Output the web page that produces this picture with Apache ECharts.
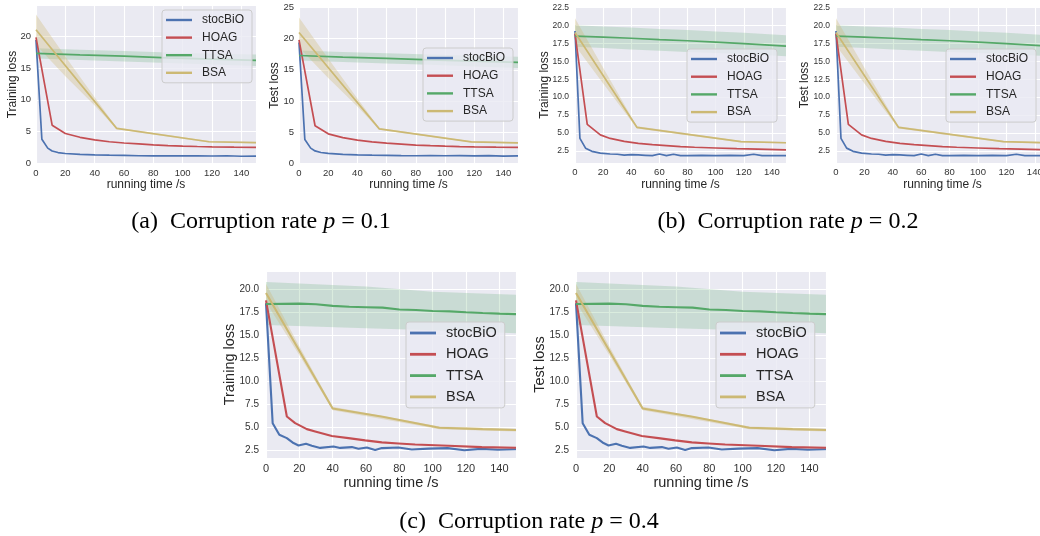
<!DOCTYPE html>
<html>
<head>
<meta charset="utf-8">
<script src="https://cdn.jsdelivr.net/npm/echarts@6/dist/echarts.min.js"></script>
<style>
  html, body { margin: 0; padding: 0; background: #fff; }
  #chart { width: 1040px; height: 536px; }
</style>
</head>
<body>
<div id="chart"></div>
<script>
const methods = ['stocBiO', 'HOAG', 'TTSA', 'BSA'];
const colors = ['#4C72B0', '#C44E52', '#55A868', '#CCB974'];
const bandColors = ['rgba(85,168,104,0.22)', 'rgba(204,185,116,0.32)'];

// ---- p = 0.1 (train / test look the same) ----
const stocT1 = [0, 4, 8, 11, 15, 20, 30, 40, 50, 60, 70, 80, 90, 100, 110, 120, 130, 140, 150];
const stocY1 = [19.4, 3.8, 2.4, 1.95, 1.7, 1.55, 1.4, 1.32, 1.28, 1.25, 1.2, 1.18, 1.2, 1.18, 1.2, 1.16, 1.2, 1.12, 1.15];
const hoagT1 = [0, 11, 20, 30, 40, 50, 60, 70, 80, 90, 100, 110, 120, 135, 150];
const hoagY1 = [19.8, 6.0, 4.7, 4.1, 3.7, 3.4, 3.2, 3.05, 2.9, 2.8, 2.72, 2.65, 2.6, 2.55, 2.52];
const ttsaT1 = [0, 30, 60, 90, 120, 150];
const ttsaY1 = [17.3, 17.05, 16.85, 16.6, 16.4, 16.2];
const ttsaLo1 = [16.5, 16.25, 16.0, 15.8, 15.55, 15.3];
const ttsaHi1 = [18.1, 17.85, 17.65, 17.45, 17.25, 17.1];
const bsaT1 = [0, 55, 118, 150];
const bsaY1 = [21.0, 5.5, 3.4, 3.25];
const bsaBandT1 = [0, 20, 40, 55, 118, 150];
const bsaLo1 = [18.6, 13.7, 9.1, 5.35, 3.3, 3.15];
const bsaHi1 = [23.4, 16.8, 10.4, 5.65, 3.5, 3.35];

// ---- p = 0.2 ----
const stocT2 = [0, 3.5, 7.5, 12, 18, 25, 30, 35, 40, 45, 50, 55, 60, 65, 70, 75, 80, 90, 100, 110, 120, 127, 133, 140, 150];
const stocY2 = [19.2, 4.25, 2.9, 2.45, 2.2, 2.08, 2.05, 1.92, 2.0, 1.95, 1.9, 1.85, 2.08, 1.85, 2.05, 1.85, 1.85, 1.9, 1.85, 1.9, 1.85, 2.05, 1.85, 1.85, 1.85];
const hoagT2 = [0, 8.7, 18, 25, 35, 45, 55, 65, 75, 85, 100, 115, 130, 150];
const hoagY2 = [18.8, 6.2, 4.75, 4.25, 3.85, 3.55, 3.38, 3.25, 3.12, 3.02, 2.92, 2.82, 2.75, 2.65];
const ttsaT2 = [0, 20, 40, 60, 80, 100, 120, 150];
const ttsaY2 = [18.5, 18.35, 18.2, 18.0, 17.85, 17.65, 17.45, 17.1];
const ttsaLo2 = [17.0, 16.85, 16.65, 16.45, 16.3, 16.15, 16.0, 15.7];
const ttsaHi2 = [20.0, 19.85, 19.7, 19.5, 19.35, 19.15, 18.95, 18.6];
const bsaT2 = [0, 44, 118, 150];
const bsaY2 = [19.0, 5.8, 3.8, 3.65];
const bsaBandT2 = [0, 20, 44, 118, 150];
const bsaLo2 = [17.2, 11.9, 5.65, 3.7, 3.55];
const bsaHi2 = [21.0, 14.1, 5.95, 3.9, 3.75];

// ---- p = 0.4 ----
const stocT4 = [0, 4, 8, 12.5, 16.5, 19.5, 24, 27.5, 32.5, 40.5, 44.5, 51.5, 55.5, 60.5, 65.5, 69.5, 79.5, 87.5, 97.5, 109, 119, 129, 139, 150];
const stocY4 = [18.5, 5.4, 4.13, 3.77, 3.23, 2.97, 3.15, 2.94, 2.7, 2.86, 2.7, 2.79, 2.6, 2.75, 2.48, 2.68, 2.75, 2.52, 2.62, 2.68, 2.45, 2.6, 2.5, 2.55];
const hoagT4 = [0, 12.5, 17.5, 24.5, 29.5, 39.5, 49.5, 59.5, 69.5, 79.5, 89.5, 109.5, 129.5, 150];
const hoagY4 = [18.8, 6.13, 5.4, 4.75, 4.5, 4.0, 3.77, 3.52, 3.3, 3.19, 3.08, 2.94, 2.79, 2.72];
const ttsaT4 = [0, 20, 30, 40, 50, 60, 70, 80, 90, 100, 110, 120, 130, 140, 150];
const ttsaY4 = [18.4, 18.44, 18.37, 18.2, 18.1, 18.05, 18.0, 17.8, 17.75, 17.64, 17.6, 17.5, 17.42, 17.35, 17.3];
const ttsaBandT4 = [0, 60, 100, 150];
const ttsaLo4 = [16.1, 15.75, 15.55, 15.2];
const ttsaHi4 = [20.8, 20.3, 19.75, 19.4];
const bsaT4 = [0, 40, 70, 104, 130, 150];
const bsaY4 = [19.6, 7.0, 6.1, 4.9, 4.75, 4.65];
const bsaBandT4 = [0, 20, 40, 104, 150];
const bsaLo4 = [18.6, 12.8, 6.8, 4.75, 4.5];
const bsaHi4 = [20.6, 13.8, 7.2, 5.05, 4.8];

const captions = ['(a)  Corruption rate {i|p} = 0.1', '(b)  Corruption rate {i|p} = 0.2', '(c)  Corruption rate {i|p} = 0.4'];

const runs = {
  p1: { lines: [[stocT1, stocY1], [hoagT1, hoagY1], [ttsaT1, ttsaY1], [bsaT1, bsaY1]],
        bands: [[ttsaT1, ttsaLo1, ttsaHi1], [bsaBandT1, bsaLo1, bsaHi1]] },
  p2: { lines: [[stocT2, stocY2], [hoagT2, hoagY2], [ttsaT2, ttsaY2], [bsaT2, bsaY2]],
        bands: [[ttsaT2, ttsaLo2, ttsaHi2], [bsaBandT2, bsaLo2, bsaHi2]] },
  p4: { lines: [[stocT4, stocY4], [hoagT4, hoagY4], [ttsaT4, ttsaY4], [bsaT4, bsaY4]],
        bands: [[ttsaBandT4, ttsaLo4, ttsaHi4], [bsaBandT4, bsaLo4, bsaHi4]] }
};

const SANS = '"Liberation Sans", Arial, sans-serif';
const SERIF = '"Liberation Serif", "Times New Roman", serif';
const small = { tick: 9.5, name: 12, legend: 12, lh: 14, lw: 1.7, xm: 4 };
const big = { tick: 11, name: 14.5, legend: 14.5, lh: 16, lw: 2.1, xm: 5 };

const panels = [
  { run: 'p1', rect: [36, 5, 220, 159], y: [-0.1, 24.9, 5], yName: 'Training loss', gap: 17, xGap: 15, ym: 5, yt: 9.5, lg: [162, 10, 3.6], s: small },
  { run: 'p1', rect: [299, 7, 219, 157], y: [-0.15, 25.1, 5], yName: 'Test loss', gap: 18, xGap: 15, ym: 5, yt: 9.5, lg: [423, 48, 3.7], s: small },
  { run: 'p2', rect: [575, 7, 211, 156], y: [0.83, 22.55, 2.5], yName: 'Training loss', gap: 24, xGap: 16, ym: 6, yt: 8.5, lg: [687, 49, 3.7], s: small },
  { run: 'p2', rect: [836, 7, 213, 156], y: [0.83, 22.55, 2.5], yName: 'Test loss', gap: 25, xGap: 16, ym: 6, yt: 8.5, lg: [946, 49, 3.7], s: small },
  { run: 'p4', rect: [266, 271, 250, 187], y: [1.6, 22.0, 2.5], yName: 'Training loss', gap: 29, xGap: 17, ym: 7, yt: 10, lg: [406, 322, 5.3], s: big },
  { run: 'p4', rect: [576, 271, 250, 187], y: [1.6, 22.0, 2.5], yName: 'Test loss', gap: 29, xGap: 17, ym: 7, yt: 10, lg: [716, 322, 5.3], s: big }
];

function bandSeries(gi, band, color) {
  const [t, lo, hi] = band;
  return {
    type: 'custom', name: 'band', xAxisIndex: gi, yAxisIndex: gi, clip: true, silent: true, z: 2,
    data: t.map((v, i) => [v, lo[i], hi[i]]),
    encode: { x: 0, y: [1, 2] },
    renderItem(params, api) {
      if (params.dataIndexInside !== 0) return null;
      const n = params.dataInsideLength;
      const bot = [], top = [];
      for (let j = 0; j < n; j++) {
        const x = api.value(0, j);
        bot.push(api.coord([x, api.value(1, j)]));
        top.push(api.coord([x, api.value(2, j)]));
      }
      return { type: 'polygon', shape: { points: bot.concat(top.reverse()) }, style: { fill: color } };
    }
  };
}

const grid = [], xAxis = [], yAxis = [], series = [], legend = [];
panels.forEach((p, gi) => {
  const s = p.s;
  grid.push({ left: p.rect[0], top: p.rect[1], width: p.rect[2], height: p.rect[3], show: true,
              backgroundColor: '#EAEAF2', borderWidth: 0, outerBoundsMode: 'none' });
  xAxis.push({
    type: 'value', gridIndex: gi, min: 0, max: 150, interval: 20,
    axisLine: { show: false }, axisTick: { show: false },
    splitLine: { lineStyle: { color: '#ffffff', width: 1.1 } },
    axisLabel: { showMaxLabel: false, fontSize: s.tick, color: '#333', fontFamily: SANS, margin: s.xm },
    name: 'running time /s', nameLocation: 'middle', nameGap: p.xGap, nameMoveOverlap: false,
    nameTextStyle: { fontSize: s.name, color: '#262626', fontFamily: SANS }
  });
  yAxis.push({
    type: 'value', gridIndex: gi, min: p.y[0], max: p.y[1], minInterval: p.y[2], maxInterval: p.y[2], splitNumber: 5,
    axisLine: { show: false }, axisTick: { show: false },
    splitLine: { lineStyle: { color: '#ffffff', width: 1.1 } },
    axisLabel: { showMinLabel: false, showMaxLabel: false, fontSize: p.yt, color: '#333', fontFamily: SANS, margin: p.ym,
                 formatter: v => p.y[2] < 5 ? v.toFixed(1) : String(v) },
    name: p.yName, nameLocation: 'middle', nameGap: p.gap, nameMoveOverlap: false,
    nameTextStyle: { fontSize: s.name, color: '#262626', fontFamily: SANS }
  });
  const run = runs[p.run];
  run.lines.forEach((ln, k) => {
    if (k === 2) series.push(bandSeries(gi, run.bands[0], bandColors[0]));
    if (k === 3) series.push(bandSeries(gi, run.bands[1], bandColors[1]));
    series.push({
      type: 'line', name: methods[k], xAxisIndex: gi, yAxisIndex: gi, z: 3,
      data: ln[0].map((t, i) => [t, ln[1][i]]),
      symbol: 'none', color: colors[k], lineStyle: { width: s.lw, color: colors[k] }
    });
  });
  legend.push({
    left: p.lg[0], top: p.lg[1], orient: 'vertical', data: methods, selectedMode: false,
    icon: 'rect', itemWidth: 26, itemHeight: s.lw + 0.7, itemGap: p.lg[2],
    itemStyle: { borderWidth: 0 },
    backgroundColor: 'rgba(234,234,242,0.8)', borderColor: '#cccccc', borderWidth: 1, borderRadius: 3,
    padding: [3, 8, 3, 4], z: 10,
    textStyle: { fontFamily: SANS, fontSize: s.legend, color: '#262626', lineHeight: s.lh, padding: [0, 0, 0, 5] }
  });
});

const capPos = [[261, 222], [788, 222], [529, 522]];
const graphic = captions.map((c, i) => ({
  type: 'text', x: capPos[i][0], y: capPos[i][1], z: 10,
  style: {
    text: c, fill: '#000', fontFamily: SERIF, fontSize: 24,
    align: 'center', verticalAlign: 'middle', textAlign: 'center', textVerticalAlign: 'middle',
    rich: { i: { fontStyle: 'italic', fontFamily: SERIF, fontSize: 24, fill: '#000' } }
  }
}));

const chart = echarts.init(document.getElementById('chart'), null, { renderer: 'canvas' });
chart.setOption({ animation: false, backgroundColor: '#ffffff', grid, xAxis, yAxis, series, legend, graphic });
window.addEventListener('resize', () => chart.resize());
</script>
</body>
</html>
